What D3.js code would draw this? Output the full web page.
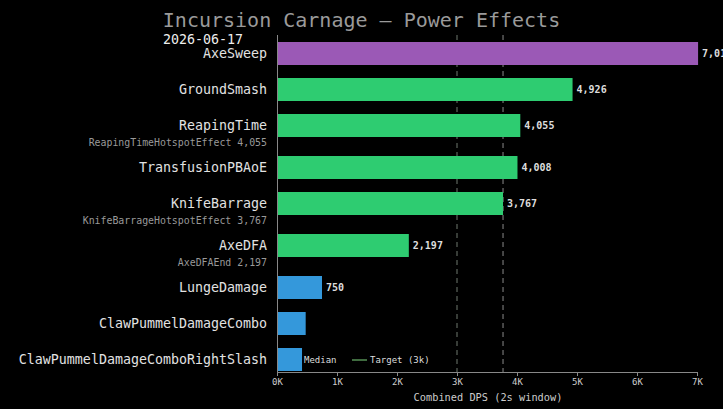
<!DOCTYPE html>
<html>
<head>
<meta charset="utf-8">
<script src="https://cdn.jsdelivr.net/npm/d3@7"></script>
<style>
  body { margin: 0; background: #000; }
  svg { display: block; font-family: "DejaVu Sans Mono", monospace; }
</style>
</head>
<body>
<div id="chart"></div>
<script>
// Dati
const powers = ["AxeSweep", "GroundSmash", "ReapingTime", "TransfusionPBAoE", "KnifeBarrage",
  "AxeDFA", "LungeDamage", "ClawPummelDamageCombo", "ClawPummelDamageComboRightSlash"];
const dps = [7018, 4926, 4055, 4008, 3767, 2197, 750, 478, 417];
const tiers = ["top", "high", "high", "high", "high", "high", "low", "low", "low"];
const subLabels = ["", "", "ReapingTimeHotspotEffect 4,055", "", "KnifeBarrageHotspotEffect 3,767",
  "AxeDFAEnd 2,197", "", "", ""];
const showValue = [true, true, true, true, true, true, true, false, false];
const xTicks = [0, 1000, 2000, 3000, 4000, 5000, 6000, 7000];
const target = 3000;

const width = 723, height = 409;
const plotLeft = 277, plotRight = 697, plotTop = 35, axisY = 372;

const colors = { top: "#9b59b6", high: "#2ecc71", low: "#3498db" };

const svg = d3.select("#chart").append("svg")
  .attr("width", width)
  .attr("height", height)
  .style("background", "#000");

// Titolo
svg.append("text")
  .attr("x", width / 2).attr("y", 27)
  .attr("text-anchor", "middle")
  .attr("fill", "#9a9a9a")
  .style("font-size", "20px")
  .text("Incursion Carnage \u2014 Power Effects");

svg.append("text")
  .attr("x", 163).attr("y", 44)
  .attr("fill", "#eee")
  .style("font-size", "13.3px")
  .text("2026-06-17");

const x = d3.scaleLinear().domain([0, 7000]).range([plotLeft, plotRight]);

// righe: altezza extra per chi ha la sotto-etichetta
const rowPitch = 36, subExtra = 6, barH = 23, firstBar = 42;
const offsets = [];
let acc = 0;
powers.forEach((p, i) => {
  offsets.push(acc);
  acc += rowPitch + (subLabels[i] ? subExtra : 0);
});
const y = d3.scaleLinear().domain([0, 1]).range([firstBar, firstBar + 1]);

const data = powers.map((p, i) => ({
  name: p, value: dps[i], tier: tiers[i], sub: subLabels[i], show: showValue[i], off: offsets[i]
}));
const median = d3.median(dps);

// linee di riferimento
svg.append("line")
  .attr("x1", x(target)).attr("x2", x(target))
  .attr("y1", plotTop).attr("y2", axisY)
  .attr("stroke", "#6e786e").attr("stroke-width", 1)
  .attr("stroke-dasharray", "5,4");
svg.append("line")
  .attr("x1", x(median)).attr("x2", x(median))
  .attr("y1", plotTop).attr("y2", axisY)
  .attr("stroke", "#8a8a8a").attr("stroke-width", 1)
  .attr("stroke-dasharray", "5,4");

// barre
svg.selectAll("rect.bar")
  .data(data)
  .enter().append("rect")
  .attr("class", "bar")
  .attr("x", x(0))
  .attr("y", d => y(d.off))
  .attr("width", d => x(d.value) - x(0))
  .attr("height", barH)
  .attr("fill", d => colors[d.tier]);

// valori
svg.selectAll("text.val")
  .data(data.filter(d => d.show))
  .enter().append("text")
  .attr("class", "val")
  .attr("x", d => x(d.value) + 4)
  .attr("y", d => y(d.off) + barH / 2)
  .attr("dy", "0.35em")
  .attr("fill", "#ddd")
  .style("font-size", "10px")
  .style("font-weight", "bold")
  .text(d => d3.format(",")(d.value));

// etichette
svg.selectAll("text.lab")
  .data(data)
  .enter().append("text")
  .attr("class", "lab")
  .attr("x", 267)
  .attr("y", d => y(d.off) + barH / 2)
  .attr("dy", "0.35em")
  .attr("text-anchor", "end")
  .attr("fill", "#e2e2e2")
  .style("font-size", "13.3px")
  .text(d => d.name);

svg.selectAll("text.sub")
  .data(data.filter(d => d.sub))
  .enter().append("text")
  .attr("class", "sub")
  .attr("x", 267)
  .attr("y", d => y(d.off) + barH + 6)
  .attr("dy", "0.35em")
  .attr("text-anchor", "end")
  .attr("fill", "#999")
  .style("font-size", "9.9px")
  .text(d => d.sub);

// assi
svg.append("line")
  .attr("x1", plotLeft + 0.5).attr("x2", plotLeft + 0.5)
  .attr("y1", plotTop).attr("y2", axisY)
  .attr("stroke", "#888");

const xAxis = svg.append("g")
  .attr("transform", `translate(0, ${axisY})`)
  .call(d3.axisBottom(x).tickValues(xTicks).tickSize(4).tickFormat(d => d / 1000 + "K"));
xAxis.select(".domain").attr("stroke", "#888");
xAxis.selectAll(".tick line").attr("stroke", "#888");
xAxis.selectAll(".tick text")
  .attr("fill", "#ccc")
  .style("font-family", "DejaVu Sans Mono, monospace")
  .style("font-size", "9px");

svg.append("text")
  .attr("x", 488).attr("y", 401)
  .attr("text-anchor", "middle")
  .attr("fill", "#ccc")
  .style("font-size", "10.3px")
  .text("Combined DPS (2s window)");

// legenda
const legY = y(offsets[8]) + barH / 2;
svg.append("text")
  .attr("x", 304).attr("y", legY).attr("dy", "0.35em")
  .attr("fill", "#ddd").style("font-size", "9px")
  .text("Median");
svg.append("line")
  .attr("x1", 352).attr("x2", 367)
  .attr("y1", legY + 0.5).attr("y2", legY + 0.5)
  .attr("stroke", "#3f6b3f").attr("stroke-width", 2);
svg.append("text")
  .attr("x", 370).attr("y", legY).attr("dy", "0.35em")
  .attr("fill", "#ddd").style("font-size", "9px")
  .text("Target (3k)");
</script>
</body>
</html>
